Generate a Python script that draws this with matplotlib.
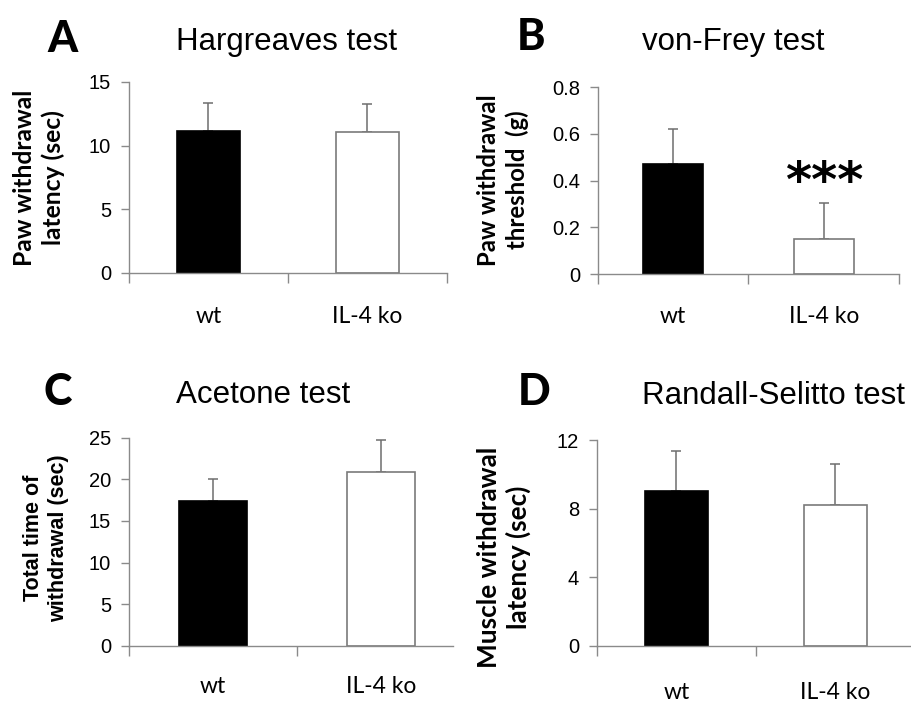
import matplotlib
matplotlib.use("Agg")
import matplotlib.pyplot as plt
import numpy as np

W, H = 912, 701
DPI = 100

categories = ["wt", "IL-4 ko"]

# Panel A: Hargreaves test
hargreaves_mean = [11.13, 11.05]
hargreaves_err = [2.2, 2.2]
hargreaves_ticks = [0, 5, 10, 15]

# Panel B: von-Frey test
vonfrey_mean = [0.471, 0.151]
vonfrey_err = [0.15, 0.155]
vonfrey_ticks = [0, 0.2, 0.4, 0.6, 0.8]
vonfrey_ticklabels = ["0", "0.2", "0.4", "0.6", "0.8"]

# Panel C: Acetone test
acetone_mean = [17.43, 20.91]
acetone_err = [2.64, 3.85]
acetone_ticks = [0, 5, 10, 15, 20, 25]

# Panel D: Randall-Selitto test
randall_mean = [9.02, 8.23]
randall_err = [2.34, 2.39]
randall_ticks = [0, 4, 8, 12]

AXIS_GRAY = "#8a8a8a"
ERR_GRAY = "#6e6e6e"

fig = plt.figure(figsize=(W / DPI, H / DPI), dpi=DPI)
fig.patch.set_facecolor("white")


def px_axes(left, right, y0, ytop):
    return fig.add_axes([left / W, 1 - y0 / H, (right - left) / W, (y0 - ytop) / H])


def fx(x):
    return x / W


def fy(y):
    return 1 - y / H


def draw_panel(ax, means, errs, ticks, ticklabels, xmax, xlab_pad):
    x = np.arange(len(categories))
    ax.errorbar(x, means, yerr=[[0] * len(errs), errs], fmt="none",
                ecolor=ERR_GRAY, elinewidth=1.1, capsize=3.5, capthick=1.1,
                zorder=1)
    ax.bar(x, means, width=0.4, color=["black", "white"],
           edgecolor=["black", "#7a7a7a"], linewidth=1.2, zorder=2)
    ax.set_xlim(-0.5, xmax)
    ax.set_ylim(ticks[0], ticks[-1])
    ax.set_yticks(ticks)
    ax.set_yticklabels(ticklabels, fontsize=14.5, family="Liberation Sans")
    ax.set_xticks(x)
    ax.set_xticklabels(categories, fontsize=16.5, family="Lato")
    ax.set_xticks([b for b in [-0.5, 0.5, 1.5] if b <= xmax], minor=True)
    ax.tick_params(axis="x", which="major", length=0, pad=xlab_pad)
    ax.tick_params(axis="x", which="minor", length=7, width=1.0,
                   color=AXIS_GRAY, direction="out")
    ax.tick_params(axis="y", length=6, width=1.0, color=AXIS_GRAY,
                   direction="out", pad=7)
    for s in ["top", "right"]:
        ax.spines[s].set_visible(False)
    for s in ["left", "bottom"]:
        ax.spines[s].set_color(AXIS_GRAY)
        ax.spines[s].set_linewidth(1.0)
    ax.patch.set_visible(False)


# Panel A
axA = px_axes(129, 447, 273, 82)
draw_panel(axA, hargreaves_mean, hargreaves_err, hargreaves_ticks,
           [str(t) for t in hargreaves_ticks], 1.5, 24)

# Panel B
axB = px_axes(598, 899, 274, 87.3)
draw_panel(axB, vonfrey_mean, vonfrey_err, vonfrey_ticks,
           vonfrey_ticklabels, 1.5, 23)
axB.annotate("***", xy=(1, vonfrey_mean[1] + vonfrey_err[1]),
             xytext=(0, 4), textcoords="offset points", ha="center",
             va="baseline", fontsize=36, fontweight="bold", family="DejaVu Sans")

# Panel C
axC = px_axes(129, 453, 645.7, 437.7)
draw_panel(axC, acetone_mean, acetone_err, acetone_ticks,
           [str(t) for t in acetone_ticks], -0.5 + 324 / 168, 22)

# Panel D
axD = px_axes(597, 912, 645.7, 440)
draw_panel(axD, randall_mean, randall_err, randall_ticks,
           [str(t) for t in randall_ticks], -0.5 + 315 / 159, 26)

# Panel letters
for letter, x, y in [("A", 47, 52), ("B", 517, 50), ("C", 44, 405), ("D", 518, 405)]:
    fig.text(fx(x), fy(y), letter, ha="left", va="baseline", fontsize=31,
             fontweight="black", family=["Lato", "DejaVu Sans"])

# Titles
for title, x, y in [("Hargreaves test", 287, 50), ("von-Frey test", 733, 50),
                    ("Acetone test", 263, 403), ("Randall-Selitto test", 774, 404)]:
    fig.text(fx(x), fy(y), title, ha="center", va="baseline",
             fontsize=22.5, family="Liberation Sans")

# Y labels
for lab, x, y, fam, fs in [("Paw withdrawal\nlatency (sec)", 39, 178, "Lato", 17.7),
                           ("Paw withdrawal\nthreshold  (g)", 503, 180, "Lato", 17.2),
                           ("Total time of\nwithdrawal (sec)", 46, 538, "Liberation Sans", 15.5),
                           ("Muscle withdrawal\nlatency (sec)", 504, 557, "Lato", 18.8)]:
    fig.text(fx(x), fy(y), lab, ha="center", va="center", rotation=90,
             fontsize=fs, fontweight="bold", family=fam, linespacing=1.25,
             multialignment="center")

fig.savefig("out.png", dpi=DPI)
